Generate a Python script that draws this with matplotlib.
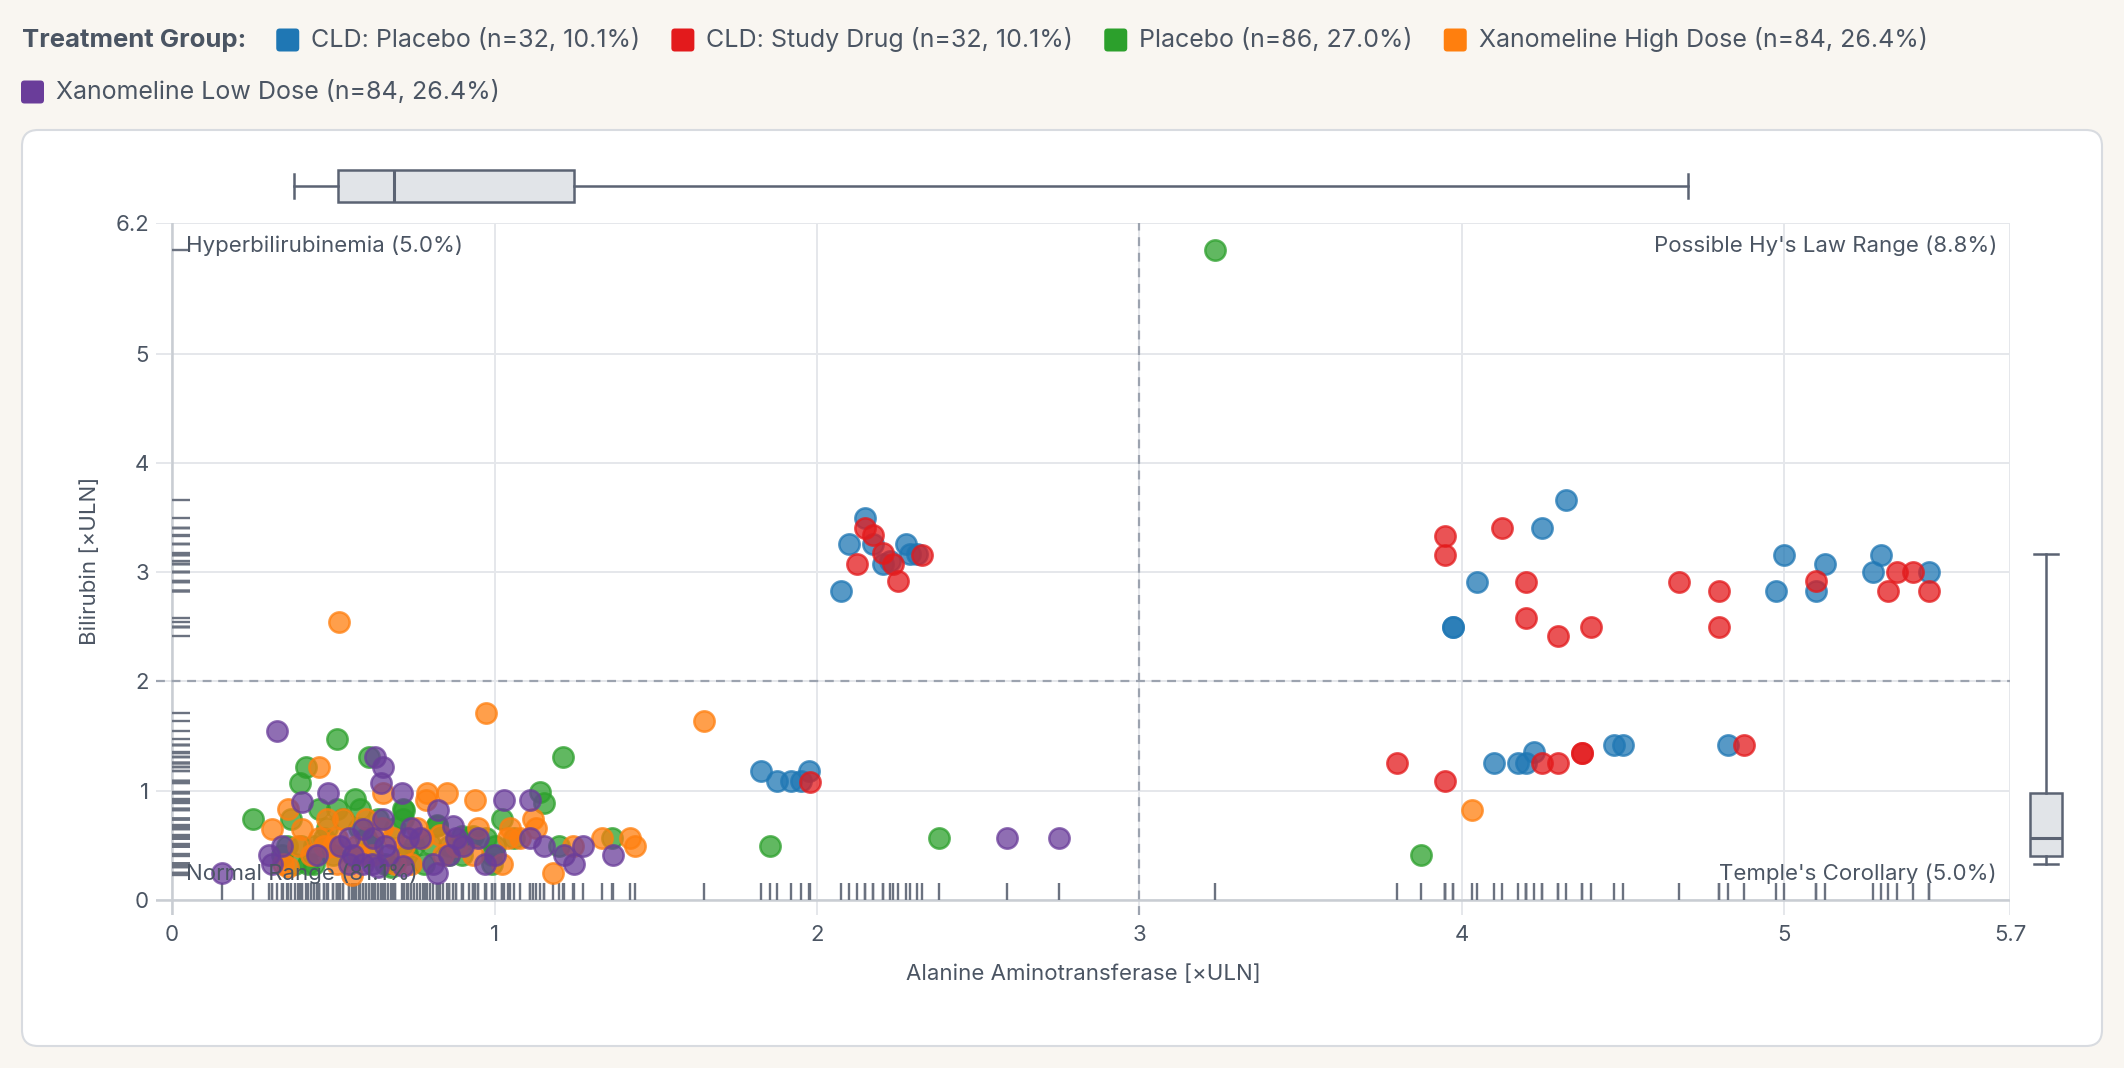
import numpy as np
import matplotlib
matplotlib.use("Agg")
import matplotlib.pyplot as plt
from matplotlib.patches import FancyBboxPatch

plt.rcParams['font.family'] = ['Inter', 'DejaVu Sans']

# ---------------------------------------------------------------------------
# data, ALT and bilirubin in x ULN
# ---------------------------------------------------------------------------
groups = ["CLD: Placebo", "CLD: Study Drug", "Placebo",
          "Xanomeline High Dose", "Xanomeline Low Dose"]
group_labels = ["CLD: Placebo (n=32, 10.1%)", "CLD: Study Drug (n=32, 10.1%)",
                "Placebo (n=86, 27.0%)", "Xanomeline High Dose (n=84, 26.4%)",
                "Xanomeline Low Dose (n=84, 26.4%)"]
colors = ["#1f77b4", "#e31a1c", "#2ca02c", "#ff7f0e", "#6a3d9a"]

cld_pbo_x = [2.15, 2.10, 2.174, 2.276, 2.29, 2.31, 2.205, 2.226, 2.075,
             1.826, 1.876, 1.92, 1.951, 1.975,
             4.324, 4.249, 4.048, 3.974, 3.974, 5.0, 5.125, 4.974, 5.099,
             5.30, 5.274, 5.448, 4.10, 4.173, 4.199, 4.223, 4.473, 4.499, 4.825]
cld_pbo_y = [3.50, 3.255, 3.255, 3.255, 3.17, 3.17, 3.08, 3.10, 2.83,
             1.176, 1.087, 1.087, 1.087, 1.176,
             3.66, 3.41, 2.91, 2.50, 2.50, 3.16, 3.08, 2.83, 2.83,
             3.16, 3.00, 3.00, 1.25, 1.25, 1.25, 1.35, 1.42, 1.42, 1.42]

cld_drug_x = [2.15, 2.174, 2.205, 2.325, 2.124, 2.235, 2.25, 1.979,
              3.949, 3.949, 4.124, 4.199, 4.199, 4.299, 4.399, 4.673, 4.799,
              4.799, 5.099, 5.349, 5.40, 5.323, 5.448, 3.80, 3.949, 4.249,
              4.299, 4.374, 4.374, 4.875]
cld_drug_y = [3.41, 3.34, 3.18, 3.16, 3.08, 3.08, 2.92, 1.077,
              3.33, 3.16, 3.41, 2.91, 2.58, 2.42, 2.50, 2.91, 2.83,
              2.50, 2.92, 3.00, 3.00, 2.83, 2.83, 1.25, 1.09, 1.25,
              1.25, 1.34, 1.34, 1.42]

pbo_x = [3.235, 3.874, 2.377, 1.854, 1.213, 0.51, 0.61, 0.415, 0.397, 0.567,
         0.25, 0.454, 0.51, 0.583, 0.717, 0.368, 0.717, 0.355, 0.717, 0.44,
         0.60, 0.53, 0.66, 0.73, 1.14, 1.154, 1.022, 0.82, 0.898, 0.934,
         0.80, 1.201, 1.364, 0.991, 0.991, 1.001, 0.72, 0.82, 0.92, 0.975,
         0.48, 0.40, 0.62, 0.69, 0.75, 0.86, 0.56, 0.47, 1.06, 0.34,
         0.58, 0.64, 0.44, 0.38, 0.90, 0.42, 0.68, 0.86, 0.50, 0.78]
pbo_y = [5.95, 0.41, 0.567, 0.49, 1.305, 1.469, 1.31, 1.22, 1.07, 0.92,
         0.737, 0.83, 0.83, 0.83, 0.83, 0.737, 0.737, 0.49, 0.413, 0.33,
         0.57, 0.74, 0.33, 0.42, 0.99, 0.89, 0.74, 0.675, 0.583, 0.583,
         0.507, 0.49, 0.57, 0.41, 0.33, 0.49, 0.82, 0.68, 0.57, 0.57,
         0.66, 0.49, 0.49, 0.66, 0.49, 0.49, 0.40, 0.57, 0.57, 0.41,
         0.66, 0.74, 0.49, 0.33, 0.41, 0.33, 0.30, 0.41, 0.41, 0.33]

high_x = [0.518, 0.975, 1.651, 4.03, 0.454, 0.653, 0.79, 0.854, 0.787, 0.94,
          0.36, 0.309, 0.402, 0.48, 0.53, 0.454, 0.51, 0.50, 0.686, 0.779,
          0.345, 0.51, 0.557, 1.12, 1.048, 1.079, 1.043, 1.244, 1.182, 1.332,
          1.42, 1.436, 0.934, 1.022, 0.841, 0.60, 0.65, 0.57, 0.88, 0.72,
          0.76, 0.43, 0.62, 0.95, 0.83, 1.13, 0.69, 0.39, 0.58, 0.36,
          0.74, 0.47]
high_y = [2.54, 1.71, 1.635, 0.82, 1.22, 0.98, 0.98, 0.98, 0.91, 0.91,
          0.83, 0.65, 0.65, 0.737, 0.737, 0.57, 0.57, 0.49, 0.57, 0.57,
          0.33, 0.33, 0.23, 0.74, 0.66, 0.57, 0.57, 0.49, 0.245, 0.57,
          0.57, 0.49, 0.41, 0.33, 0.41, 0.74, 0.66, 0.49, 0.49, 0.49,
          0.66, 0.41, 0.41, 0.66, 0.59, 0.66, 0.33, 0.49, 0.41, 0.30,
          0.33, 0.49]

low_x = [0.325, 0.63, 0.653, 0.648, 0.483, 0.714, 0.402, 0.653, 0.593, 0.624,
         0.733, 0.671, 0.562, 0.309, 0.593, 0.717, 0.154, 1.028, 1.11, 0.826,
         0.872, 0.903, 1.11, 1.152, 1.275, 1.214, 1.245, 1.368, 0.808, 0.82,
         2.589, 2.751, 0.34, 0.52, 0.77, 0.95, 0.45, 0.66, 0.88, 0.30,
         0.55, 0.74, 0.86, 0.62, 1.00, 0.55, 0.64, 0.97]
low_y = [1.548, 1.31, 1.22, 1.07, 0.98, 0.98, 0.897, 0.737, 0.65, 0.57,
         0.57, 0.413, 0.41, 0.33, 0.33, 0.31, 0.246, 0.91, 0.91, 0.82,
         0.675, 0.49, 0.57, 0.49, 0.49, 0.41, 0.33, 0.41, 0.33, 0.245,
         0.567, 0.567, 0.49, 0.49, 0.57, 0.57, 0.41, 0.49, 0.57, 0.41,
         0.57, 0.66, 0.41, 0.33, 0.41, 0.33, 0.30, 0.33]

series_x = [cld_pbo_x, cld_drug_x, pbo_x, high_x, low_x]
series_y = [cld_pbo_y, cld_drug_y, pbo_y, high_y, low_y]

# marginal box plot summaries as drawn in the reference
alt_box = dict(whislo=0.377, q1=0.513, med=0.687, q3=1.246, whishi=4.70)
bili_box = dict(whislo=0.33, q1=0.405, med=0.57, q3=0.98, whishi=3.17)

x_ticks = [0, 1, 2, 3, 4, 5, 5.7]
x_tick_labels = ["0", "1", "2", "3", "4", "5", "5.7"]
y_ticks = [0, 1, 2, 3, 4, 5, 6.2]
y_tick_labels = ["0", "1", "2", "3", "4", "5", "6.2"]
alt_cut = 3
bili_cut = 2
quadrant_labels = ["Hyperbilirubinemia (5.0%)", "Possible Hy's Law Range (8.8%)",
                   "Normal Range (81.1%)", "Temple's Corollary (5.0%)"]

# ---------------------------------------------------------------------------
W, H = 2124, 1068
BG = "#f9f6f1"
TXT = "#4b5563"
GRID = "#e5e7eb"
FS = 16

fig = plt.figure(figsize=(W / 100, H / 100), dpi=100, facecolor=BG)

# background layer in pixel coordinates
bg = fig.add_axes([0, 0, 1, 1], zorder=-5)
bg.set_xlim(0, W)
bg.set_ylim(H, 0)
bg.axis("off")
card = FancyBboxPatch((22, 130), 2080, 916, boxstyle="round,pad=0,rounding_size=16",
                      facecolor="white", edgecolor="#d8dbe0", linewidth=1.5)
bg.add_patch(card)

# legend row(s)
renderer = fig.canvas.get_renderer()
t = bg.text(22, 40, "Treatment Group:", fontsize=18.5, fontweight="bold",
            color=TXT, va="center", ha="left")
xpos = t.get_window_extent(renderer).x1 + 30
rows_y = [40, 92]
for i, (lab, c) in enumerate(zip(group_labels, colors)):
    row = 0 if i < 4 else 1
    if i == 4:
        xpos = 21
    yy = rows_y[row]
    bg.add_patch(FancyBboxPatch((xpos, yy - 11.5), 23, 23,
                                boxstyle="round,pad=0,rounding_size=3.5",
                                facecolor=c, edgecolor="none"))
    tt = bg.text(xpos + 35, yy, lab, fontsize=18, color=TXT, va="center", ha="left")
    xpos = tt.get_window_extent(renderer).x1 + 31

# main scatter axes
x_min, x_max = -0.05, 5.7
y_min, y_max = -0.14, 6.2
left_px, right_px, top_px, bot_px = 156, 2010, 223, 915
ax = fig.add_axes([left_px / W, 1 - bot_px / H, (right_px - left_px) / W,
                   (bot_px - top_px) / H])
ax.set_facecolor("white")
ax.set_xlim(x_min, x_max)
ax.set_ylim(y_min, y_max)
for s in ax.spines.values():
    s.set_visible(False)
ax.set_xticks(x_ticks)
ax.set_xticklabels(x_tick_labels)
ax.set_yticks(y_ticks)
ax.set_yticklabels(y_tick_labels)
ax.tick_params(length=0, labelsize=FS, labelcolor=TXT)
ax.tick_params(axis="x", pad=7)
ax.tick_params(axis="y", pad=5)
ax.grid(True, color=GRID, linewidth=1.4, zorder=0)
ax.set_axisbelow(True)
ax.axvline(0, color="#c9cdd3", linewidth=1.8, zorder=1)
ax.axhline(0, color="#c9cdd3", linewidth=1.8, zorder=1)
ax.axvline(alt_cut, color="#9ca3af", linewidth=1.6, linestyle=(0, (4, 3)), zorder=1)
ax.axhline(bili_cut, color="#9ca3af", linewidth=1.6, linestyle=(0, (4, 3)), zorder=1)

# rugs
all_x = np.concatenate([np.array(v) for v in series_x])
all_y = np.concatenate([np.array(v) for v in series_y])
ax.vlines(all_x, 0, 0.155, color="#6b7280", linewidth=1.7, zorder=2)
ax.hlines(all_y, 0, 0.056, color="#6b7280", linewidth=1.7, zorder=2)

# points
for xs, ys, c, g in zip(series_x, series_y, colors, groups):
    ax.scatter(xs, ys, s=215, color=c, alpha=0.75, edgecolors=c,
               linewidths=1.8, zorder=3, label=g)

# quadrant labels
ax.text(0.042, 5.99, quadrant_labels[0], fontsize=FS, color=TXT,
        ha="left", va="center", zorder=5)
ax.text(5.66, 5.99, quadrant_labels[1], fontsize=FS, color=TXT,
        ha="right", va="center", zorder=5)
ax.text(0.042, 0.24, quadrant_labels[2], fontsize=FS, color=TXT,
        ha="left", va="center", zorder=5)
ax.text(5.66, 0.24, quadrant_labels[3], fontsize=FS, color=TXT,
        ha="right", va="center", zorder=5)

ax.set_xlabel("Alanine Aminotransferase [×ULN]", fontsize=FS, color=TXT, labelpad=14)
ax.set_ylabel("Bilirubin [×ULN]", fontsize=FS, color=TXT)
ax.yaxis.set_label_coords(-0.030, 0.512)

# marginal box plots
box_face = "#e1e4e8"
box_edge = "#5b6373"
props = dict(patch_artist=True, showfliers=False,
             boxprops=dict(facecolor=box_face, edgecolor=box_edge, linewidth=1.8),
             medianprops=dict(color=box_edge, linewidth=2.2),
             whiskerprops=dict(color=box_edge, linewidth=1.8),
             capprops=dict(color=box_edge, linewidth=1.8))

ax_top = fig.add_axes([left_px / W, 1 - 212 / H, (right_px - left_px) / W, 52 / H])
ax_top.set_xlim(x_min, x_max)
ax_top.set_ylim(-1, 1)
ax_top.bxp([alt_box], positions=[0], widths=1.23, capwidths=0.9,
           orientation="horizontal", **props)
ax_top.axis("off")

ax_right = fig.add_axes([2020 / W, 1 - bot_px / H, 52 / W, (bot_px - top_px) / H])
ax_right.set_ylim(y_min, y_max)
ax_right.set_xlim(-1, 1)
ax_right.bxp([bili_box], positions=[0], widths=1.23, capwidths=0.92,
             orientation="vertical", **props)
ax_right.axis("off")

fig.savefig("out.png", dpi=100, facecolor=BG)
